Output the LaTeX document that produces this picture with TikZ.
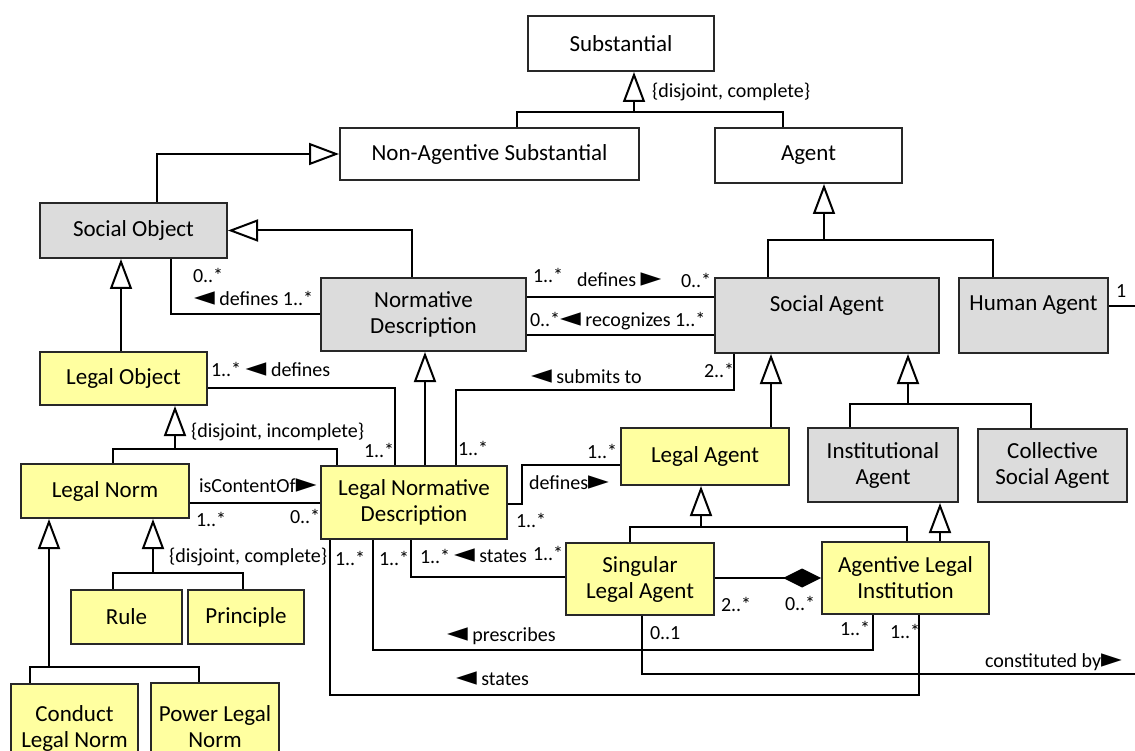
\documentclass[tikz,border=0pt]{standalone}
\usepackage{fontspec}
\setmainfont{Carlito}
\newfontfamily\symfont{DejaVu Sans}
\usetikzlibrary{arrows.meta}
\definecolor{boxgray}{RGB}{220,220,220}
\definecolor{boxyellow}{RGB}{255,255,160}
\definecolor{edgegray}{RGB}{40,40,40}
\newcommand{\boxfont}{\fontsize{23}{26}\selectfont}
\newcommand{\lblfont}{\fontsize{20}{23}\selectfont}
\newcommand{\leftptr}{{\symfont\fontsize{27}{23}\selectfont ◄}}
\newcommand{\rightptr}{{\symfont\fontsize{27}{23}\selectfont ►}}

\begin{document}
\begin{tikzpicture}[x=1pt,y=-1pt,line width=2pt,
        cls/.style={rectangle,draw=edgegray,fill=white,font=\boxfont,
          align=center,inner sep=0pt},
        gcls/.style={cls,fill=boxgray},
        ycls/.style={cls,fill=boxyellow},
        upname/.style={text depth=24pt},
        lbl/.style={font=\lblfont,inner sep=0pt,anchor=west},
        gen/.style={-{Triangle[open,length=30pt,width=22pt]}},
        comp/.style={-{Diamond[length=38pt,width=19pt]}}]
      \useasboundingbox (0,0) rectangle (1135,751);
      % classes
      \node (subst) at (621,43.5) [cls,minimum width=186pt,minimum height=55pt] {Substantial};
      \node (nas) at (489.5,154) [cls,minimum width=299pt,minimum height=52pt] {Non-Agentive Substantial};
      \node (agent) at (808.5,155.5) [cls,minimum width=187pt,minimum height=55pt] {Agent};
      \node (socobj) at (133.5,230.5) [gcls,minimum width=187pt,minimum height=55pt] {Social Object};
      \node (normdesc) at (423.5,314.5) [gcls,minimum width=205pt,minimum height=73pt] {Normative\\Description};
      \node (socagent) at (827,315.5) [gcls,upname,minimum width=224pt,minimum height=75pt] {Social Agent};
      \node (humagent) at (1033.5,315.5) [gcls,upname,minimum width=149pt,minimum height=75pt] {Human Agent};
      \node (legobj) at (123.5,378.5) [ycls,minimum width=167pt,minimum height=53pt] {Legal Object};
      \node (legnorm) at (105,491) [ycls,minimum width=168pt,minimum height=54pt] {Legal Norm};
      \node (lnd) at (414,502.5) [ycls,minimum width=186pt,minimum height=73pt] {Legal Normative\\Description};
      \node (legagent) at (705,456.5) [ycls,minimum width=168pt,minimum height=57pt] {Legal Agent};
      \node (instagent) at (883,465) [gcls,minimum width=150pt,minimum height=74pt] {Institutional\\Agent};
      \node (collagent) at (1052.5,465.5) [gcls,minimum width=149pt,minimum height=73pt] {Collective\\Social Agent};
      \node (rule) at (126.5,617) [ycls,minimum width=111pt,minimum height=54pt] {Rule};
      \node (principle) at (246,617) [ycls,minimum width=116pt,minimum height=54pt] {Principle};
      \node (sla) at (640,579) [ycls,minimum width=148pt,minimum height=72pt] {Singular\\Legal Agent};
      \node (ali) at (905.5,578) [ycls,minimum width=167pt,minimum height=72pt] {Agentive Legal\\Institution};
      \node (conduct) at (74.5,728.5) [ycls,minimum width=127pt,minimum height=89pt] {Conduct\\Legal Norm};
      \node (power) at (215,726.5) [ycls,minimum width=128pt,minimum height=87pt] {Power Legal\\Norm};
      % generalizations
      \coordinate (gsub) at (634,112);
      \draw[gen] (gsub) -- (subst.south -| gsub);
      \draw (nas.north -| 517,0) |- (gsub) -| (agent.north -| 783,0);
      \draw[gen] (socobj.north -| 157,0) |- (nas.west);
      \draw[gen] (normdesc.north -| 412,0) |- (socobj.east);
      \draw[gen] (legobj.north -| 121,0) -- (socobj.south -| 121,0);
      \coordinate (glegobj) at (175,449);
      \draw[gen] (glegobj) -- (legobj.south -| glegobj);
      \draw (legnorm.north -| 113,0) |- (glegobj) -| (lnd.north -| 337,0);
      \draw[gen] (lnd.north -| 425,0) -- (normdesc.south -| 425,0);
      \coordinate (gagent) at (824,240);
      \draw[gen] (gagent) -- (agent.south -| gagent);
      \draw (socagent.north -| 768,0) |- (gagent) -| (humagent.north -| 993,0);
      \draw[gen] (legagent.north -| 771,0) -- (socagent.south -| 771,0);
      \coordinate (gsoc) at (908,404);
      \draw[gen] (gsoc) -- (socagent.south -| gsoc);
      \draw (instagent.north -| 850,0) |- (gsoc) -| (collagent.north -| 1031,0);
      \coordinate (gnorm) at (49,667);
      \draw[gen] (gnorm) -- (legnorm.south -| gnorm);
      \draw (conduct.north -| 30,0) |- (gnorm) -| (power.north -| 199,0);
      \coordinate (gkind) at (153,573);
      \draw[gen] (gkind) -- (legnorm.south -| gkind);
      \draw (rule.north -| 113,0) |- (gkind) -| (principle.north -| 243,0);
      \coordinate (glegag) at (701,527);
      \draw[gen] (glegag) -- (legagent.south -| glegag);
      \draw (sla.north -| 630,0) |- (glegag) -| (ali.north -| 907,0);
      \draw[gen] (ali.north -| 940,0) -- (instagent.south -| 940,0);
      % associations
      \draw (socobj.south -| 171,0) |- (normdesc.west);
      \draw (legobj.east |- 0,388) -| (lnd.north -| 395,0);
      \draw (socagent.south -| 734,0) |- (456,390) -- (lnd.north -| 456,0);
      \draw (normdesc.east |- 0,297) -- (socagent.west |- 0,297);
      \draw (normdesc.east |- 0,335) -- (socagent.west |- 0,335);
      \coordinate (hend) at (1135,306);
      \draw (humagent.east |- hend) -- (hend);
      \draw (legnorm.east |- 0,503) -- (lnd.west |- 0,503);
      \draw (lnd.east |- 0,504) -| (522,465) -- (legagent.west |- 0,465);
      \draw[comp] (sla.east |- 0,578) -- (ali.west |- 0,578);
      \draw (lnd.south -| 411,0) |- (sla.west |- 0,577);
      \draw (lnd.south -| 373,0) |- (873,650) -- (ali.south -| 873,0);
      \draw (lnd.south -| 330,0) |- (919,695) -- (ali.south -| 919,0);
      \coordinate (cend) at (1135,674);
      \draw (sla.south -| 642,0) |- (cend);
      % labels
      \node[lbl] (l1) at (651,92) {\{disjoint, complete\}};
      \node[lbl] (l2) at (192,275) {0..*};
      \node[lbl] (l3) at (193,298) {\leftptr{} defines 1..*};
      \node[lbl] (l4) at (532,275) {1..*};
      \node[lbl] (l5) at (576,280) {defines \rightptr};
      \node[lbl] (l6) at (680,280) {0..*};
      \node[lbl] (l7) at (529,321) {0..*\leftptr{} recognizes 1..*};
      \node[lbl] (l8) at (1115,291) {1};
      \node[lbl] (l9) at (210,369) {1..* \leftptr{} defines};
      \node[lbl] (l10) at (530,377) {\leftptr{} submits to};
      \node[lbl] (l11) at (703,370) {2..*};
      \node[lbl] (l12) at (190,432) {\{disjoint, incomplete\}};
      \node[lbl] (l13) at (363,450) {1..*};
      \node[lbl] (l14) at (457,448) {1..*};
      \node[lbl] (l15) at (198,486) {isContentOf\rightptr};
      \node[lbl] (l16) at (195,519) {1..*};
      \node[lbl] (l17) at (289,516) {0..*};
      \node[lbl] (l18) at (586,451) {1..*};
      \node[lbl] (l19) at (528,483) {defines\rightptr};
      \node[lbl] (l20) at (515,520) {1..*};
      \node[lbl] (l21) at (168,557) {\{disjoint, complete\}};
      \node[lbl] (l22) at (334,558) {1..*};
      \node[lbl] (l23) at (378,558) {1..*};
      \node[lbl] (l24) at (419,556) {1..*};
      \node[lbl] (l25) at (453,556) {\leftptr{} states};
      \node[lbl] (l26) at (532,553) {1..*};
      \node[lbl] (l27) at (720,604) {2..*};
      \node[lbl] (l28) at (784,603) {0..*};
      \node[lbl] (l29) at (446,636) {\leftptr{} prescribes};
      \node[lbl] (l30) at (649,633) {0..1};
      \node[lbl] (l31) at (839,628) {1..*};
      \node[lbl] (l32) at (889,631) {1..*};
      \node[lbl] (l33) at (984,662) {constituted by\rightptr};
      \node[lbl] (l34) at (455,679) {\leftptr{} states};
\end{tikzpicture}
\end{document}
